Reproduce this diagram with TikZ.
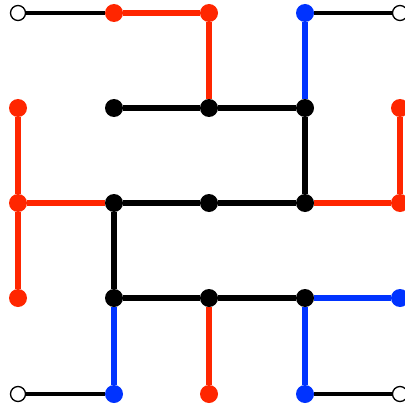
\documentclass[tikz,border=0pt]{standalone}
\usetikzlibrary{positioning}
\definecolor{dred}{RGB}{255,38,0}
\definecolor{dblue}{RGB}{0,51,255}
\tikzset{
  dotred/.style={circle,fill=dred,inner sep=0pt,minimum size=18pt},
  dotblue/.style={circle,fill=dblue,inner sep=0pt,minimum size=18pt},
  dotblack/.style={circle,fill=black,inner sep=0pt,minimum size=18pt},
  opendot/.style={circle,draw=black,fill=white,line width=1.3pt,inner sep=0pt,minimum size=15pt},
  ered/.style={draw=dred,line width=6pt},
  eblue/.style={draw=dblue,line width=6pt},
  eblack/.style={draw=black,line width=6pt},
  ethin/.style={draw=black,line width=4pt}
}
\begin{document}
\begin{tikzpicture}[x=1pt,y=-1pt]
\useasboundingbox (0,0) rectangle (404,409);
% row 0
\node[opendot] (a0) at (18,13) {};
\node[dotred] (b0) at (114,13) {};
\node[dotred] (c0) at (209,13) {};
\node[dotblue] (d0) at (305,13) {};
\node[opendot] (e0) at (400,13) {};
% row 1
\node[dotred] (a1) at (18,108) {};
\node[dotblack] (b1) at (114,108) {};
\node[dotblack] (c1) at (209,108) {};
\node[dotblack] (d1) at (305,108) {};
\node[dotred] (e1) at (400,108) {};
% row 2
\node[dotred] (a2) at (18,203) {};
\node[dotblack] (b2) at (114,203) {};
\node[dotblack] (c2) at (209,203) {};
\node[dotblack] (d2) at (305,203) {};
\node[dotred] (e2) at (400,203) {};
% row 3
\node[dotred] (a3) at (18,298) {};
\node[dotblack] (b3) at (114,298) {};
\node[dotblack] (c3) at (209,298) {};
\node[dotblack] (d3) at (305,298) {};
\node[dotblue] (e3) at (400,298) {};
% row 4
\node[opendot] (a4) at (18,394) {};
\node[dotblue] (b4) at (114,394) {};
\node[dotred] (c4) at (209,394) {};
\node[dotblue] (d4) at (305,394) {};
\node[opendot] (e4) at (400,394) {};
% edges
\draw[ethin] (a0) -- (b0);
\draw[ered] (b0) -- (c0);
\draw[ered] (c0) -- (c1);
\draw[eblue] (d0) -- (d1);
\draw[ethin] (d0) -- (e0);
\draw[ered] (a1) -- (a2);
\draw[eblack] (b1) -- (c1);
\draw[eblack] (c1) -- (d1);
\draw[eblack] (d1) -- (d2);
\draw[ered] (e1) -- (e2);
\draw[ered] (a2) -- (b2);
\draw[ered] (a2) -- (a3);
\draw[eblack] (b2) -- (c2);
\draw[eblack] (c2) -- (d2);
\draw[ered] (d2) -- (e2);
\draw[eblack] (b2) -- (b3);
\draw[eblack] (b3) -- (c3);
\draw[eblack] (c3) -- (d3);
\draw[eblue] (d3) -- (e3);
\draw[eblue] (b3) -- (b4);
\draw[ered] (c3) -- (c4);
\draw[eblue] (d3) -- (d4);
\draw[ethin] (a4) -- (b4);
\draw[ethin] (d4) -- (e4);
\end{tikzpicture}
\end{document}
